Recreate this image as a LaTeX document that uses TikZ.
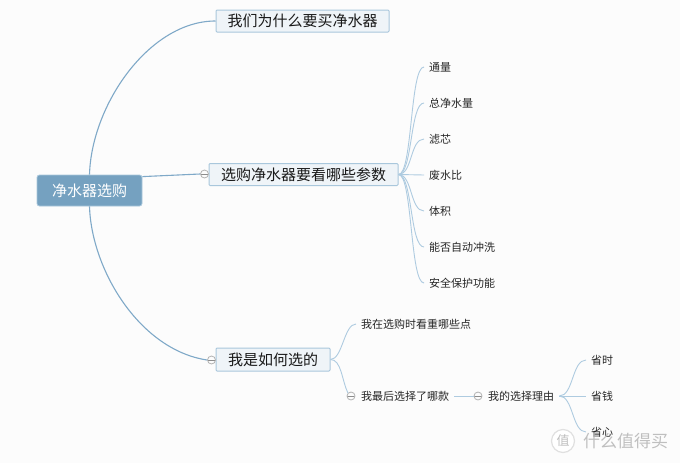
\documentclass[tikz,border=0pt]{standalone}
\usepackage{fontspec}
\setmainfont{Noto Sans CJK SC}
\definecolor{rootblue}{HTML}{75A1C0}
\definecolor{boxfill}{HTML}{EFF4F8}
\definecolor{boxline}{HTML}{A9C7DC}
\definecolor{mainline}{HTML}{7FA9C8}
\definecolor{subline}{HTML}{AECBE0}
\definecolor{paper}{HTML}{FCFCFC}
\tikzset{
 rootbox/.style={draw=boxline,line width=0.8pt,fill=rootblue,text=white,rounded corners=2.5pt,minimum width=105pt,minimum height=31pt,inner sep=0pt,font=\fontsize{15}{15}\selectfont},
 topicbox/.style={draw=boxline,line width=1pt,fill=boxfill,text=black!90,rounded corners=1pt,minimum height=22pt,inner sep=0pt,font=\fontsize{15}{15}\selectfont},
 leaf/.style={anchor=west,inner xsep=5pt,inner ysep=0pt,text=black!85,font=\fontsize{11}{11}\selectfont},
 foldmark/.style={circle,draw=black!30,line width=0.8pt,fill=paper,minimum size=8pt,inner sep=0pt,path picture={\draw[black!45,line width=0.7pt] (path picture bounding box.west) -- (path picture bounding box.east);}},
 branch/.style={draw=mainline,line width=1.1pt},
 twig/.style={draw=subline,line width=0.9pt},
}

\begin{document}
\begin{tikzpicture}[x=1pt,y=-1pt]

 \useasboundingbox[fill=paper] (0,0) rectangle (680,463);

 \node[rootbox] (root) at (89.5,190.5) {净水器选购};
 \node[topicbox,minimum width=173pt] (why) at (302.5,21) {我们为什么要买净水器};
 \node[topicbox,minimum width=189pt] (params) at (303.5,174.5) {选购净水器要看哪些参数};
 \node[topicbox,minimum width=114pt,minimum height=23pt] (how) at (273,359.5) {我是如何选的};

 \node[foldmark] (foldparams) at (204.5,174) {};
 \node[foldmark] (foldhow) at (211.5,360) {};

 % parameter list
 \node[leaf] (flow) at (424,67) {通量};
 \node[leaf] (total) at (424,103) {总净水量};
 \node[leaf] (filter) at (424,139) {滤芯};
 \node[leaf] (waste) at (424,175) {废水比};
 \node[leaf] (size) at (424,211) {体积};
 \node[leaf] (flush) at (424,247) {能否自动冲洗};
 \node[leaf] (safety) at (424,283) {安全保护功能};

 % how it was chosen
 \node[leaf] (points) at (356,324) {我在选购时看重哪些点};
 \node[leaf] (final) at (356,396) {我最后选择了哪款};
 \node[foldmark] (foldfinal) at (351,396) {};
 \node[leaf] (reason) at (483,396) {我的选择理由};
 \node[foldmark] (foldreason) at (478,396) {};
 \node[leaf] (time) at (586,360) {省时};
 \node[leaf] (money) at (586,396) {省钱};
 \node[leaf] (care) at (586,432) {省心};

 \draw[branch] (root.north) .. controls +(2,-70) and +(-66,0) .. (why.west);
 \draw[branch] ([yshift=-2pt]root.north east) -- (foldparams.west);
 \draw[branch] (root.south) .. controls +(2,64) and +(-67,-10) .. (foldhow.west);

 \draw[twig] (params.east) .. controls +(14,0) and +(-14,0) .. (flow.west);
 \draw[twig] (params.east) .. controls +(14,0) and +(-14,0) .. (total.west);
 \draw[twig] (params.east) .. controls +(14,0) and +(-14,0) .. (filter.west);
 \draw[twig] (params.east) -- (waste.west);
 \draw[twig] (params.east) .. controls +(14,0) and +(-14,0) .. (size.west);
 \draw[twig] (params.east) .. controls +(14,0) and +(-14,0) .. (flush.west);
 \draw[twig] (params.east) .. controls +(14,0) and +(-14,0) .. (safety.west);

 \draw[twig] (how.east) .. controls +(12,0) and +(-12,0) .. (points.west);
 \draw[twig] (how.east) .. controls +(11,0) and +(-6,-12) .. (foldfinal.north west);
 \draw[twig] (final.east) -- (foldreason.west);

 \draw[twig] (reason.east) .. controls +(14,0) and +(-14,0) .. (time.west);
 \draw[twig] (reason.east) -- (money.west);
 \draw[twig] (reason.east) .. controls +(14,0) and +(-14,0) .. (care.west);

 % site mark in the corner
 \node[circle,draw=black!12,line width=1.2pt,fill=white,minimum size=23pt,inner sep=0pt,text=black!25,font=\fontsize{13}{13}\selectfont] (markring) at (563,441) {值};
 \node[anchor=west,inner sep=0pt,text=black!25,font=\fontsize{17}{17}\selectfont] (marktext) at (583,441) {什么值得买};

\end{tikzpicture}
\end{document}
